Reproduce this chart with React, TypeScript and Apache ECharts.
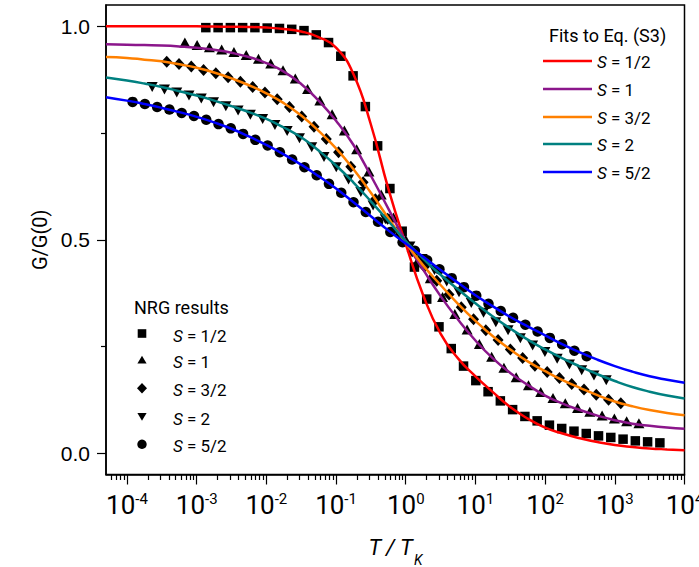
import { useEffect, useRef } from "react";
import * as echarts from "echarts";

// ---- NRG results (T / T_K, G / G(0)) ----
const nrgHalfT = [1.353e-3, 2.03e-3, 3.045e-3, 4.567e-3, 6.852e-3, 1.028e-2, 1.542e-2, 2.312e-2, 3.468e-2, 5.203e-2, 7.803e-2, 0.117, 0.1756, 0.2634, 0.3951, 0.5926, 0.8889, 1.333, 2, 3, 4.5, 6.75, 10.13, 15.19, 22.78, 34.17, 51.26, 76.89, 115.3, 173, 259.5, 389.2, 583.8, 875.8, 1314, 1970, 2956, 4434];
const nrgHalfG = [0.997, 0.997, 0.997, 0.997, 0.997, 0.996, 0.995, 0.993, 0.99, 0.98, 0.962, 0.93, 0.884, 0.812, 0.72, 0.62, 0.52, 0.436, 0.361, 0.296, 0.245, 0.204, 0.17, 0.144, 0.1225, 0.102, 0.086, 0.0757, 0.0656, 0.0578, 0.0515, 0.046, 0.0405, 0.0368, 0.0328, 0.0288, 0.0265, 0.0241];

const nrgOneT = [6.77e-4, 1.015e-3, 1.523e-3, 2.284e-3, 3.426e-3, 5.139e-3, 7.707e-3, 1.156e-2, 1.734e-2, 2.601e-2, 3.902e-2, 5.853e-2, 8.779e-2, 0.1317, 0.1975, 0.2963, 0.4444, 0.6667, 1, 1.5, 2.25, 3.375, 5.063, 7.594, 11.39, 17.09, 25.63, 38.44, 57.67, 86.5, 129.7, 194.6, 291.9, 437.9, 656.8, 985.3, 1478, 2217];
const nrgOneG = [0.962, 0.956, 0.951, 0.946, 0.94, 0.933, 0.924, 0.913, 0.897, 0.878, 0.853, 0.826, 0.794, 0.756, 0.712, 0.66, 0.606, 0.552, 0.5, 0.452, 0.41, 0.366, 0.326, 0.29, 0.256, 0.226, 0.2, 0.178, 0.159, 0.143, 0.129, 0.117, 0.106, 0.097, 0.088, 0.081, 0.075, 0.07];

const nrgThreeHalvesT = [3.72e-4, 5.58e-4, 8.37e-4, 1.256e-3, 1.884e-3, 2.826e-3, 4.24e-3, 6.36e-3, 9.54e-3, 1.431e-2, 2.146e-2, 3.218e-2, 4.829e-2, 7.243e-2, 0.1086, 0.163, 0.2444, 0.3667, 0.55, 0.825, 1.2375, 1.856, 2.784, 4.177, 6.265, 9.4, 14.1, 21.14, 31.72, 47.58, 71.36, 107, 160.6, 240.8, 361.3, 541.9, 812.9, 1219];
const nrgThreeHalvesG = [0.917, 0.912, 0.906, 0.898, 0.89, 0.881, 0.87, 0.858, 0.845, 0.829, 0.811, 0.789, 0.765, 0.736, 0.705, 0.671, 0.635, 0.595, 0.549, 0.512, 0.473, 0.437, 0.404, 0.372, 0.342, 0.314, 0.288, 0.265, 0.243, 0.223, 0.205, 0.19, 0.176, 0.162, 0.149, 0.137, 0.125, 0.117];

const nrgTwoT = [2.3e-4, 3.45e-4, 5.18e-4, 7.76e-4, 1.165e-3, 1.747e-3, 2.621e-3, 3.931e-3, 5.896e-3, 8.845e-3, 1.327e-2, 1.989e-2, 2.985e-2, 4.477e-2, 6.716e-2, 0.1007, 0.1511, 0.2267, 0.34, 0.51, 0.765, 1.1475, 1.721, 2.582, 3.873, 5.81, 8.714, 13.07, 19.61, 29.41, 44.12, 66.17, 99.26, 148.9, 223.3, 335, 502.5, 753.7];
const nrgTwoG = [0.858, 0.852, 0.845, 0.838, 0.831, 0.822, 0.813, 0.803, 0.793, 0.783, 0.769, 0.755, 0.738, 0.717, 0.694, 0.67, 0.641, 0.612, 0.58, 0.548, 0.518, 0.484, 0.455, 0.429, 0.402, 0.377, 0.352, 0.329, 0.307, 0.288, 0.269, 0.252, 0.237, 0.221, 0.208, 0.194, 0.182, 0.171];

const nrgFiveHalvesT = [1.204e-4, 1.807e-4, 2.71e-4, 4.065e-4, 6.098e-4, 9.147e-4, 1.372e-3, 2.058e-3, 3.087e-3, 4.631e-3, 6.945e-3, 1.042e-2, 1.563e-2, 2.344e-2, 3.516e-2, 5.274e-2, 7.911e-2, 0.1187, 0.178, 0.267, 0.4005, 0.6008, 0.9011, 1.352, 2.028, 3.042, 4.562, 6.844, 10.27, 15.4, 23.1, 34.64, 51.97, 77.95, 116.9, 175.4, 263.1, 394.6];
const nrgFiveHalvesG = [0.823, 0.818, 0.811, 0.805, 0.797, 0.79, 0.781, 0.771, 0.761, 0.748, 0.734, 0.721, 0.705, 0.688, 0.67, 0.651, 0.631, 0.61, 0.588, 0.565, 0.542, 0.518, 0.494, 0.474, 0.452, 0.431, 0.41, 0.389, 0.369, 0.35, 0.333, 0.317, 0.301, 0.285, 0.27, 0.255, 0.24, 0.227];

// ---- Fits to Eq. (S3), sampled every quarter decade ----
const fitT = [
  5e-5, 1e-4, 1.78e-4, 3.16e-4, 5.62e-4, 1e-3, 1.78e-3, 3.16e-3, 5.62e-3, 0.01, 0.0178, 0.0316, 0.0562, 0.1, 0.178, 0.316, 0.562,
  1, 1.78, 3.16, 5.62, 10, 17.8, 31.6, 56.2, 100, 178, 316, 562, 1000, 1780, 3160, 5620, 10000,
];
const fitHalfG = [1.0, 1.0, 1.0, 1.0, 1.0, 1.0, 0.9995, 0.999, 0.9985, 0.997, 0.994, 0.988, 0.975, 0.95, 0.888, 0.77, 0.62, 0.49, 0.37, 0.28, 0.222, 0.18, 0.143, 0.108, 0.081, 0.06, 0.046, 0.035, 0.026, 0.019, 0.0145, 0.011, 0.0088, 0.007];
const fitOneG = [0.958, 0.957, 0.956, 0.955, 0.953, 0.95, 0.945, 0.938, 0.928, 0.914, 0.894, 0.865, 0.826, 0.779, 0.722, 0.65, 0.573, 0.496, 0.43, 0.368, 0.313, 0.264, 0.222, 0.188, 0.16, 0.135, 0.116, 0.101, 0.088, 0.077, 0.069, 0.064, 0.06, 0.057];
const fitThreeHalvesG = [0.928, 0.926, 0.922, 0.918, 0.911, 0.903, 0.892, 0.878, 0.862, 0.843, 0.82, 0.791, 0.755, 0.714, 0.665, 0.61, 0.551, 0.493, 0.44, 0.394, 0.35, 0.31, 0.274, 0.243, 0.215, 0.192, 0.171, 0.153, 0.136, 0.121, 0.11, 0.101, 0.094, 0.089];
const fitTwoG = [0.88, 0.873, 0.866, 0.858, 0.848, 0.838, 0.826, 0.813, 0.799, 0.783, 0.763, 0.74, 0.709, 0.674, 0.634, 0.59, 0.544, 0.497, 0.456, 0.418, 0.384, 0.351, 0.32, 0.292, 0.266, 0.243, 0.222, 0.203, 0.185, 0.169, 0.155, 0.144, 0.135, 0.128];
const fitFiveHalvesG = [0.834, 0.826, 0.818, 0.809, 0.799, 0.788, 0.775, 0.76, 0.742, 0.722, 0.7, 0.676, 0.649, 0.62, 0.588, 0.555, 0.522, 0.491, 0.46, 0.429, 0.399, 0.37, 0.344, 0.319, 0.297, 0.276, 0.255, 0.236, 0.219, 0.204, 0.191, 0.18, 0.172, 0.165];

// ---- axes ----
const T_MIN = 5e-5;
const T_MAX = 1e4;
const decadeExponents = [-4, -3, -2, -1, 0, 1, 2, 3, 4];
const minorMultipliers = [2, 3, 4, 5, 6, 7, 8, 9];
const yLabelValues = [0, 0.5, 1.0];
const yMinorValues = [0.25, 0.75];

const spinLabels = ["1/2", "1", "3/2", "2", "5/2"];
const fitColors = ["#ff0000", "#8b168b", "#ff8000", "#008080", "#0000ff"];

const LABEL_FONT = '"Liberation Sans", Arial, sans-serif';
const NARROW_FONT = '"Liberation Sans Narrow", "Arial Narrow", "Roboto", sans-serif';
const TEXT_FONT = 'Roboto, "Liberation Sans", Arial, sans-serif';

const toPoints = (ts: number[], gs: number[]) => ts.map((t, i) => [Math.log10(t), gs[i]]);

const xMin = Math.log10(T_MIN);
const xMax = Math.log10(T_MAX);
const minorTickValues: number[] = [];
for (let e = -5; e < 4; e++) {
  for (const m of minorMultipliers) {
    const v = Math.log10(m * Math.pow(10, e));
    if (v > xMin + 1e-6 && v < xMax) minorTickValues.push(v);
  }
}

const nrgSets = [
  { t: nrgHalfT, g: nrgHalfG, symbol: "rect", size: 9.5, rotate: 0 },
  { t: nrgOneT, g: nrgOneG, symbol: "triangle", size: [11, 10], rotate: 0 },
  { t: nrgThreeHalvesT, g: nrgThreeHalvesG, symbol: "diamond", size: [11, 12], rotate: 0 },
  { t: nrgTwoT, g: nrgTwoG, symbol: "triangle", size: [11, 10], rotate: 180 },
  { t: nrgFiveHalvesT, g: nrgFiveHalvesG, symbol: "circle", size: 10.5, rotate: 0 },
];

const fitSets = [fitHalfG, fitOneG, fitThreeHalvesG, fitTwoG, fitFiveHalvesG];

const spinRich = {
  i: { fontStyle: "italic", fontSize: 17, fontFamily: TEXT_FONT, fill: "#000" },
  r: { fontSize: 17, fontFamily: TEXT_FONT, fill: "#000" },
};

function buildLegendGraphics() {
  const items: any[] = [];
  // fitted curves
  items.push({
    type: "text",
    x: 549,
    y: 35,
    style: { text: "Fits to Eq. (S3)", fontSize: 18, fontFamily: TEXT_FONT, fill: "#000", align: "left", verticalAlign: "middle" },
  });
  const fitRows = [61, 89, 117, 144, 172];
  fitRows.forEach((y, i) => {
    items.push({ type: "line", shape: { x1: 543, y1: y, x2: 592, y2: y }, style: { stroke: fitColors[i], lineWidth: 2.5 } });
    items.push({
      type: "text",
      x: 597,
      y: y + 1,
      style: { text: `{i|S}{r| = ${spinLabels[i]}}`, rich: spinRich, align: "left", verticalAlign: "middle" },
    });
  });
  // NRG symbols
  items.push({
    type: "text",
    x: 134,
    y: 307,
    style: { text: "NRG results", fontSize: 18, fontFamily: TEXT_FONT, fill: "#000", align: "left", verticalAlign: "middle" },
  });
  const cx = 142;
  const nrgRows = [333.5, 360, 388.3, 416.5, 444.3];
  items.push({ type: "rect", shape: { x: cx - 4.3, y: nrgRows[0] - 4.3, width: 8.6, height: 8.6 }, style: { fill: "#000" } });
  items.push({ type: "polygon", shape: { points: [[cx, nrgRows[1] - 4.2], [cx + 4.6, nrgRows[1] + 3.6], [cx - 4.6, nrgRows[1] + 3.6]] }, style: { fill: "#000" } });
  items.push({ type: "polygon", shape: { points: [[cx, nrgRows[2] - 5.3], [cx + 5, nrgRows[2]], [cx, nrgRows[2] + 5.3], [cx - 5, nrgRows[2]]] }, style: { fill: "#000" } });
  items.push({ type: "polygon", shape: { points: [[cx - 4.6, nrgRows[3] - 3.6], [cx + 4.6, nrgRows[3] - 3.6], [cx, nrgRows[3] + 4.2]] }, style: { fill: "#000" } });
  items.push({ type: "circle", shape: { cx, cy: nrgRows[4], r: 4.7 }, style: { fill: "#000" } });
  nrgRows.forEach((y, i) => {
    items.push({
      type: "text",
      x: 173,
      y: y + 2,
      style: { text: `{i|S}{r| = ${spinLabels[i]}}`, rich: spinRich, align: "left", verticalAlign: "middle" },
    });
  });
  return items;
}

export default function App() {
  const ref = useRef<HTMLDivElement>(null);

  useEffect(() => {
    document.body.style.margin = "0";
    const chart = echarts.init(ref.current!, null, { renderer: "svg" });

    const scatterSeries = nrgSets.map((s, i) => ({
      type: "scatter",
      name: `NRG S = ${spinLabels[i]}`,
      data: toPoints(s.t, s.g),
      symbol: s.symbol,
      symbolSize: s.size,
      symbolRotate: s.rotate,
      itemStyle: { color: "#000", opacity: 1 },
      z: 2,
    }));

    const lineSeries = fitSets.map((g, i) => ({
      type: "line",
      name: `Fit S = ${spinLabels[i]}`,
      data: toPoints(fitT, g),
      showSymbol: false,
      symbol: "none",
      smooth: 0.5,
      lineStyle: { color: fitColors[i], width: 2.5 },
      z: 3,
    }));

    const baseX = {
      type: "value",
      min: xMin,
      max: xMax,
      position: "bottom",
      splitLine: { show: false },
    };
    const baseY = {
      type: "value",
      min: -0.05,
      max: 1.05,
      position: "left",
      splitLine: { show: false },
    };

    chart.setOption({
      animation: false,
      backgroundColor: "#fff",
      grid: {
        left: 106,
        top: 5,
        width: 578.5,
        height: 469.5,
        show: true,
        borderColor: "#000",
        borderWidth: 1.5,
        containLabel: false,
        outerBoundsMode: "none",
      },
      xAxis: [
        {
          ...baseX,
          axisLine: { show: true, onZero: false, lineStyle: { color: "#000", width: 1.5 } },
          axisTick: { show: true, customValues: decadeExponents, length: 10, lineStyle: { color: "#000", width: 1.2 } },
          axisLabel: {
            show: true,
            customValues: decadeExponents,
            margin: 17,
            formatter: (v: number) => `{b|10}{s|${Math.round(v)}}`,
            rich: {
              b: { fontSize: 26, fontFamily: NARROW_FONT, color: "#000", verticalAlign: "bottom" },
              s: { fontSize: 15, fontFamily: NARROW_FONT, color: "#000", verticalAlign: "top" },
            },
          },
          name: "{i|T / T}{k|K}",
          nameLocation: "middle",
          nameGap: 62,
          nameTextStyle: {
            rich: {
              i: { fontSize: 22, fontStyle: "italic", fontFamily: TEXT_FONT, color: "#000", verticalAlign: "top" },
              k: { fontSize: 14, fontStyle: "italic", fontFamily: TEXT_FONT, color: "#000", verticalAlign: "bottom", padding: [16, 0, 0, 1] },
            },
          },
        },
        {
          ...baseX,
          axisLine: { show: false, onZero: false },
          axisTick: { show: true, customValues: minorTickValues, length: 5.5, lineStyle: { color: "#000", width: 1.2 } },
          axisLabel: { show: false },
        },
      ],
      yAxis: [
        {
          ...baseY,
          axisLine: { show: true, onZero: false, lineStyle: { color: "#000", width: 1.5 } },
          axisTick: { show: true, customValues: yLabelValues, length: 9, lineStyle: { color: "#000", width: 1.2 } },
          axisLabel: {
            show: true,
            customValues: yLabelValues,
            margin: 16,
            formatter: (v: number) => v.toFixed(1),
            fontSize: 21,
            fontFamily: LABEL_FONT,
            color: "#000",
          },
          name: "G/G(0)",
          nameLocation: "middle",
          nameGap: 56,
          nameRotate: 90,
          nameTextStyle: { fontSize: 20, fontFamily: TEXT_FONT, color: "#000" },
        },
        {
          ...baseY,
          axisLine: { show: false, onZero: false },
          axisTick: { show: true, customValues: yMinorValues, length: 5, lineStyle: { color: "#000", width: 1.2 } },
          axisLabel: { show: false },
        },
      ],
      graphic: buildLegendGraphics(),
      series: [...scatterSeries, ...lineSeries],
    });

    return () => chart.dispose();
  }, []);

  return <div ref={ref} style={{ width: 699, height: 567 }} />;
}
